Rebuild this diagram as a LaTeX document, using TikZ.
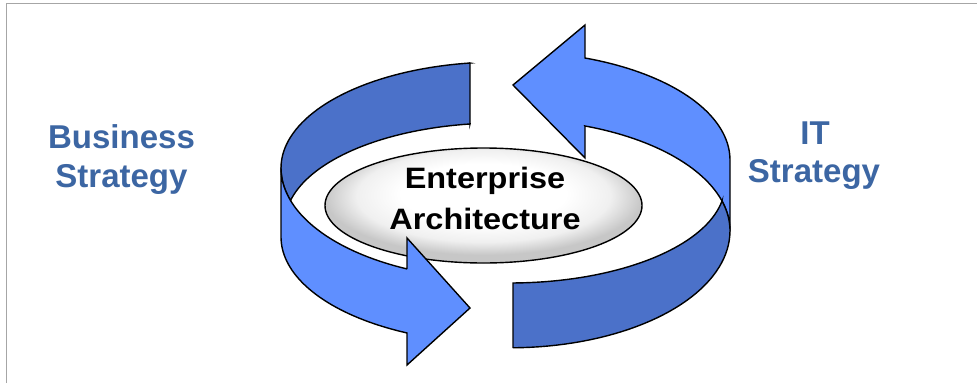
\documentclass[tikz,border=0pt]{standalone}
\usepackage{fontspec}
\setmainfont{Liberation Sans}
\usepackage{graphicx}
\usetikzlibrary{shapes.geometric}
\definecolor{lightblue}{HTML}{5F8FFF}
\definecolor{darkblue}{HTML}{4B71C9}
\definecolor{labelblue}{HTML}{3C66A3}
\definecolor{framegray}{HTML}{A6A6A6}
\pgfdeclareradialshading{eashade}{\pgfpoint{0bp}{7bp}}{%
  color(0bp)=(white); color(13bp)=(white); color(20bp)=(black!6); color(25bp)=(black!22); color(50bp)=(black!22)}
\tikzset{
  band/.style={draw=black, line width=1.4pt, line join=miter},
  lightband/.style={band, fill=lightblue},
  darkband/.style={band, fill=darkblue},
  sidetext/.style={text=labelblue, font=\bfseries\fontsize{33}{39}\selectfont, inner sep=0pt, anchor=base},
  eatext/.style={text=black, font=\bfseries\fontsize{29.5}{35}\selectfont, inner sep=0pt, anchor=base},
  framestroke/.style={draw=framegray, line width=1.5pt},
  centreoval/.style={ellipse, draw=black, line width=1.4pt, inner sep=0pt,
    minimum width=317pt, minimum height=115pt, shading=eashade}
}
\begin{document}
\begin{tikzpicture}[x=1pt,y=-1pt]
\useasboundingbox (0,0) rectangle (977,383);
\fill[white] (0,0) rectangle (977,383);
% frame
\draw[framestroke] (6.5,383) -- (6.5,3.5) -- (977,3.5);

% centre ellipse
\node[centreoval] (ea) at (483.5,205.5) {};

% left arrow: dark back part
\path[darkband] (470,63)
  -- plot[domain=97.87:180,samples=40,variable=\t] ({500+219*cos(\t)},{168-106*sin(\t)})
  -- plot[domain=180:196.95,samples=12,variable=\t] ({500+219*cos(\t)},{168-111.5*sin(\t)})
  -- plot[domain=167.0:98.02,samples=40,variable=\t] ({500+215*cos(\t)},{223-100*sin(\t)})
  -- (470,124) -- cycle;
% left arrow: light front part with head
\path[lightband] (281,168) -- (281,237)
  -- plot[domain=180:244.87,samples=40,variable=\t] ({500+219*cos(\t)},{237-106*sin(\t)})
  -- (407,365) -- (470,308) -- (407,238) -- (407,269)
  -- plot[domain=244.87:180,samples=40,variable=\t] ({500+219*cos(\t)},{168-111.5*sin(\t)})
  -- cycle;

% right arrow: light part with head
\path[lightband] (730,230.8) -- (730,160)
  -- plot[domain=0:70.07,samples=40,variable=\t] ({510+220*cos(\t)},{160-108.5*sin(\t)})
  -- (585,25) -- (513,85) -- (585,158) -- (585,126)
  -- plot[domain=70.07:0,samples=40,variable=\t] ({510+220*cos(\t)},{230.8-111.5*sin(\t)})
  -- cycle;
% right arrow: dark part
\path[darkband] (513,348)
  -- plot[domain=270.78:360,samples=40,variable=\t] ({510+220*cos(\t)},{230.8-117*sin(\t)})
  -- plot[domain=0:15.5,samples=12,variable=\t] ({510+220*cos(\t)},{230.8-111.5*sin(\t)})
  -- plot[domain=350.42:270.8,samples=40,variable=\t] ({510+215*cos(\t)},{184.6-98.4*sin(\t)})
  -- (513,283) -- cycle;

% texts
\node[eatext] (ea1) at (485,188.3) {\scalebox{1.1}[1]{Enterprise}};
\node[eatext] (ea2) at (485,229.3) {\scalebox{1.1}[1]{Architecture}};
\node[sidetext] (bs1) at (121.5,148.7) {Business};
\node[sidetext] (bs2) at (121.5,187.7) {Strategy};
\node[sidetext] (it1) at (815,144) {IT};
\node[sidetext] (it2) at (814,182.7) {Strategy};
\end{tikzpicture}
\end{document}
